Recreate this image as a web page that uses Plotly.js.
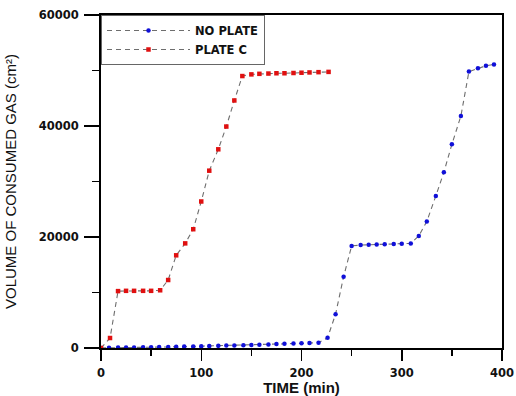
<!DOCTYPE html>
<html>
<head>
<meta charset="utf-8">
<script src="https://cdn.plot.ly/plotly-3.0.1.min.js"></script>
<style>html,body{margin:0;padding:0;background:#fff;}#chart{width:516px;height:396px;}</style>
</head>
<body>
<div id="chart"></div>
<script>
// NO PLATE series (time in min, volume in cm^2)
var noPlateTime = [0, 8, 17, 25, 33, 42, 50, 58, 67, 75, 83, 92, 100, 108, 117, 125, 133, 142, 150, 158, 167, 175, 183, 192, 200, 208, 217, 226, 234, 242, 250, 259, 267, 275, 283, 292, 300, 309, 317, 325, 334, 342, 350, 359, 367, 376, 384, 392];
var noPlateVol  = [0, 40, 70, 90, 110, 130, 150, 170, 190, 220, 250, 280, 310, 350, 390, 430, 470, 510, 550, 600, 650, 700, 750, 800, 850, 900, 950, 1850, 6100, 12850, 18400, 18550, 18600, 18650, 18700, 18750, 18800, 18850, 20200, 22800, 27400, 31650, 36700, 41800, 49800, 50400, 50850, 51100];
// PLATE C series
var plateCTime = [0, 9, 17, 25, 33, 42, 50, 59, 67, 75, 84, 92, 100, 108, 117, 125, 133, 141, 150, 158, 167, 175, 183, 192, 200, 208, 217, 227];
var plateCVol  = [0, 1800, 10250, 10300, 10300, 10300, 10300, 10400, 12250, 16700, 18850, 21400, 26400, 31950, 35800, 39900, 44600, 49000, 49300, 49400, 49450, 49500, 49500, 49550, 49600, 49650, 49700, 49750];
var seriesNames = ["NO PLATE", "PLATE C"];
var xTicks = [0, 100, 200, 300, 400];
var yTicks = [0, 20000, 40000, 60000];

var lineStyle = {color: '#6e6e6e', width: 1.1, dash: '5px,4px'};
var traces = [
  {x: noPlateTime, y: noPlateVol, name: seriesNames[0], type: 'scatter', mode: 'lines+markers',
   line: lineStyle, marker: {symbol: 'circle', size: 4.5, color: '#1010d8'}},
  {x: plateCTime, y: plateCVol, name: seriesNames[1], type: 'scatter', mode: 'lines+markers',
   line: lineStyle, marker: {symbol: 'square', size: 4.5, color: '#e01010'}}
];
var tickFont = {family: '"DejaVu Sans", Verdana, sans-serif', size: 11.5, color: '#111', weight: 'bold'};
var layout = {
  width: 516, height: 396,
  margin: {l: 101, r: 14, t: 15, b: 48},
  paper_bgcolor: '#fff', plot_bgcolor: '#fff',
  showlegend: true,
  legend: {x: 0, y: 1, xanchor: 'left', yanchor: 'top', bgcolor: '#fff', bordercolor: '#666', borderwidth: 1,
    font: {family: '"DejaVu Sans", Verdana, sans-serif', size: 11.5, color: '#111', weight: 'bold'},
    itemwidth: 83, tracegroupgap: 0},
  xaxis: {range: [0, 400], tickvals: xTicks, ticktext: xTicks.map(String), ticks: 'outside', ticklen: 11, tickwidth: 1.5, tickcolor: '#000',
    minor: {dtick: 50, ticks: 'outside', ticklen: 6, tickwidth: 1.5, tickcolor: '#000'},
    showgrid: false, zeroline: false, showline: true, linecolor: '#000', linewidth: 2, mirror: true,
    tickfont: tickFont, ticklabelstandoff: 2, ticklabeloverflow: 'allow',
    title: {text: 'TIME (min)', font: {family: 'Arial, "Liberation Sans", sans-serif', size: 15, color: '#111', weight: 'bold'}, standoff: 7}},
  yaxis: {range: [0, 60000], tickvals: yTicks, ticktext: yTicks.map(String), ticks: 'outside', ticklen: 15, tickwidth: 1.5, tickcolor: '#000',
    minor: {dtick: 10000, ticks: 'outside', ticklen: 7, tickwidth: 1.5, tickcolor: '#000'},
    showgrid: false, zeroline: false, showline: true, linecolor: '#000', linewidth: 2, mirror: true,
    tickfont: tickFont, ticklabelstandoff: 3, ticklabeloverflow: 'allow',
    title: {text: 'VOLUME OF CONSUMED GAS (cm²)', font: {family: '"Liberation Sans", Arial, sans-serif', size: 15, color: '#111'}, standoff: 18}}
};
Plotly.newPlot('chart', traces, layout, {displayModeBar: false, staticPlot: true});
</script>
</body>
</html>
